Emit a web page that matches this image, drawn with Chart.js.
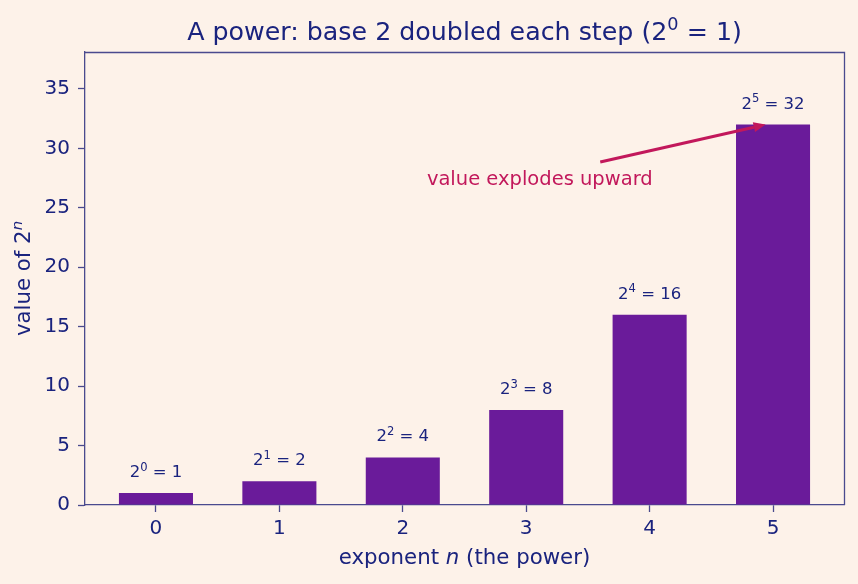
<!DOCTYPE html>
<html>
<head>
<meta charset="utf-8">
<script src="https://cdn.jsdelivr.net/npm/chart.js@4.4.1/dist/chart.umd.min.js"></script>
<style>
  html, body { margin: 0; padding: 0; background: #fdf2e9; }
  #wrap { width: 858px; height: 584px; }
</style>
</head>
<body>
<div id="wrap"><canvas id="c" width="858" height="584"></canvas></div>
<script>
// ---- data ----
const exponents = [0, 1, 2, 3, 4, 5];
const values = [1, 2, 4, 8, 16, 32];
const yTicks = [0, 5, 10, 15, 20, 25, 30, 35];
const titleText = ['A power: base 2 doubled each step (2', '0', ' = 1)'];
const annotationText = 'value explodes upward';
const annotationArrowFrom = [3.6, 28.85];
const annotationArrowTo = [4.94, 32];
const annotationTextAt = [3.11, 27.3];

const BG = '#fdf2e9';
const NAVY = '#1a237e';
const SPINE = '#4a4a8e';
const BAR = '#6a1b9a';
const PINK = '#c2185b';
const FONT = '"DejaVu Sans", sans-serif';

function drawSup(ctx, x, y, base, sup, rest, size, align) {
  ctx.font = size + 'px ' + FONT;
  const wb = ctx.measureText(base).width;
  const wr = ctx.measureText(rest).width;
  ctx.font = (size * 0.7) + 'px ' + FONT;
  const ws = ctx.measureText(sup).width;
  const total = wb + ws + wr;
  let x0 = x;
  if (align === 'center') x0 = x - total / 2;
  ctx.textAlign = 'left';
  ctx.textBaseline = 'alphabetic';
  ctx.font = size + 'px ' + FONT;
  ctx.fillText(base, x0, y);
  ctx.font = (size * 0.7) + 'px ' + FONT;
  ctx.fillText(sup, x0 + wb, y - size * 0.38);
  ctx.font = size + 'px ' + FONT;
  ctx.fillText(rest, x0 + wb + ws, y);
}

const decor = {
  id: 'decor',
  beforeDraw(chart) {
    const ctx = chart.ctx;
    ctx.save();
    ctx.fillStyle = BG;
    ctx.fillRect(0, 0, chart.width, chart.height);
    ctx.restore();
  },
  afterDatasetsDraw(chart) {
    const ctx = chart.ctx;
    const xs = chart.scales.x, ys = chart.scales.y;
    const a = chart.chartArea;
    ctx.save();
    // frame top/right
    ctx.strokeStyle = SPINE;
    ctx.lineWidth = 1.3;
    ctx.beginPath();
    ctx.moveTo(a.left, a.top + 0.5);
    ctx.lineTo(a.right + 0.5, a.top + 0.5);
    ctx.lineTo(a.right + 0.5, a.bottom);
    ctx.stroke();

    // bar labels
    ctx.fillStyle = NAVY;
    exponents.forEach((n, i) => {
      const px = xs.getPixelForValue(n);
      const py = ys.getPixelForValue(values[i]);
      drawSup(ctx, px, py - 16, '2', String(n), ' = ' + values[i], 16.5, 'center');
    });

    // title
    ctx.fillStyle = NAVY;
    drawSup(ctx, (a.left + a.right) / 2, 40, titleText[0], titleText[1], titleText[2], 25.3, 'center');

    // y title
    const LS = 21.3;
    ctx.save();
    ctx.translate(30, (a.top + a.bottom) / 2);
    ctx.rotate(-Math.PI / 2);
    ctx.font = LS + 'px ' + FONT;
    const w1 = ctx.measureText('value of 2').width;
    ctx.font = 'italic ' + (LS * 0.7) + 'px ' + FONT;
    const w2 = ctx.measureText('n').width;
    const x0 = -(w1 + w2) / 2;
    ctx.textAlign = 'left';
    ctx.textBaseline = 'alphabetic';
    ctx.font = LS + 'px ' + FONT;
    ctx.fillText('value of 2', x0, 0);
    ctx.font = 'italic ' + (LS * 0.7) + 'px ' + FONT;
    ctx.fillText('n', x0 + w1, -LS * 0.38);
    ctx.restore();

    // x title
    ctx.font = LS + 'px ' + FONT;
    const p1 = 'exponent ', p3 = ' (the power)';
    const wa = ctx.measureText(p1).width, wc = ctx.measureText(p3).width;
    ctx.font = 'italic ' + LS + 'px ' + FONT;
    const wbn = ctx.measureText('n').width;
    let sx = (a.left + a.right) / 2 - (wa + wbn + wc) / 2;
    ctx.textAlign = 'left';
    ctx.textBaseline = 'alphabetic';
    ctx.font = LS + 'px ' + FONT;
    ctx.fillText(p1, sx, 564);
    ctx.font = 'italic ' + LS + 'px ' + FONT;
    ctx.fillText('n', sx + wa, 564);
    ctx.font = LS + 'px ' + FONT;
    ctx.fillText(p3, sx + wa + wbn, 564);

    // annotation
    const fx = xs.getPixelForValue(annotationArrowFrom[0]);
    const fy = ys.getPixelForValue(annotationArrowFrom[1]);
    const tx = xs.getPixelForValue(annotationArrowTo[0]);
    const ty = ys.getPixelForValue(annotationArrowTo[1]);
    const ang = Math.atan2(ty - fy, tx - fx);
    const hl = 12, hw = 5;
    const bx = tx - hl * Math.cos(ang), by = ty - hl * Math.sin(ang);
    ctx.strokeStyle = PINK;
    ctx.fillStyle = PINK;
    ctx.lineWidth = 3;
    ctx.lineCap = 'butt';
    ctx.beginPath();
    ctx.moveTo(fx, fy);
    ctx.lineTo(bx, by);
    ctx.stroke();
    ctx.beginPath();
    ctx.moveTo(tx, ty);
    ctx.lineTo(bx + hw * Math.sin(ang), by - hw * Math.cos(ang));
    ctx.lineTo(bx - hw * Math.sin(ang), by + hw * Math.cos(ang));
    ctx.closePath();
    ctx.fill();
    ctx.font = '19.5px ' + FONT;
    ctx.textAlign = 'center';
    ctx.textBaseline = 'middle';
    ctx.fillText(annotationText, xs.getPixelForValue(annotationTextAt[0]), ys.getPixelForValue(annotationTextAt[1]));
    ctx.restore();
  }
};

new Chart(document.getElementById('c'), {
  type: 'bar',
  data: {
    datasets: [{
      data: exponents.map((n, i) => ({ x: n, y: values[i] })),
      backgroundColor: BAR,
      borderWidth: 0,
      barPercentage: 0.6,
      categoryPercentage: 1.0
    }]
  },
  options: {
    responsive: false,
    animation: false,
    layout: { padding: { left: 0, top: 52, right: 14, bottom: 0 } },
    plugins: { legend: { display: false }, tooltip: { enabled: false }, title: { display: false } },
    scales: {
      x: {
        type: 'linear',
        offset: false,
        min: -0.575,
        max: 5.575,
        afterBuildTicks: s => { s.ticks = exponents.map(v => ({ value: v })); },
        afterFit: s => { s.height = 79; },
        grid: { offset: false, drawOnChartArea: false, drawTicks: true, tickLength: 7, tickColor: SPINE, tickWidth: 1.3 },
        border: { display: true, color: SPINE, width: 1.3 },
        ticks: { color: NAVY, font: { family: FONT, size: 20 }, padding: 5, maxRotation: 0, autoSkip: false }
      },
      y: {
        min: 0,
        max: 38.1,
        afterBuildTicks: s => { s.ticks = yTicks.map(v => ({ value: v })); },
        afterFit: s => { s.width = 85; },
        grid: { drawOnChartArea: false, drawTicks: true, tickLength: 7, tickColor: SPINE, tickWidth: 1.3 },
        border: { display: true, color: SPINE, width: 1.3 },
        ticks: { color: NAVY, font: { family: FONT, size: 20 }, padding: 8 }
      }
    }
  },
  plugins: [decor]
});
</script>
</body>
</html>
